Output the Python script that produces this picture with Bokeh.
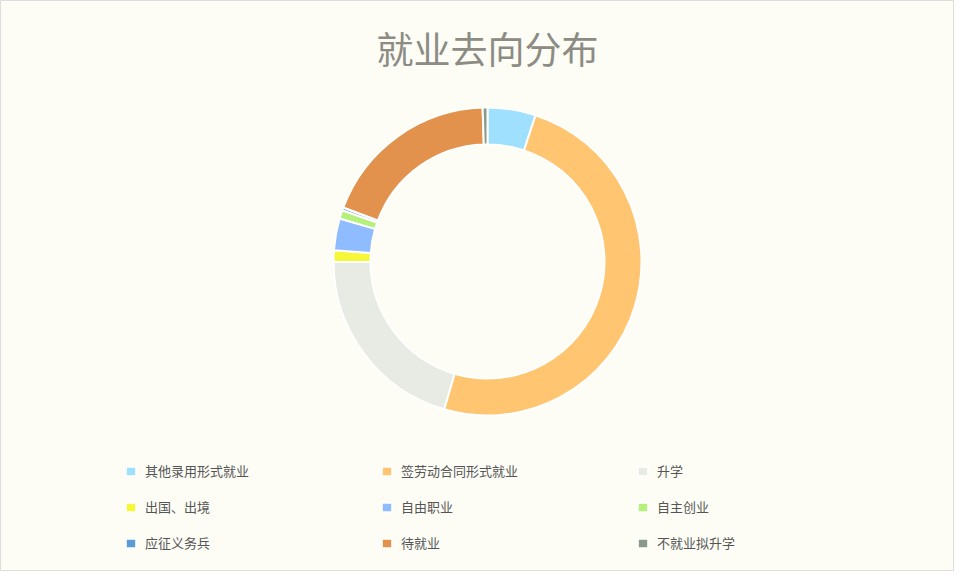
import math
from bokeh.plotting import figure
from bokeh.models import ColumnDataSource, Range1d, Legend, LegendItem
from bokeh.core.properties import value
from bokeh.embed import file_html
from bokeh.resources import INLINE

title_text = "就业去向分布"
categories = ["其他录用形式就业", "签劳动合同形式就业", "升学", "出国、出境",
              "自由职业", "自主创业", "应征义务兵", "待就业", "不就业拟升学"]
shares = [5.0, 49.0, 20.2, 1.2, 3.3, 0.9, 0.3, 18.6, 0.5]
colors = ["#a0e0ff", "#ffc570", "#e8ebe4", "#f7f73a", "#8fbcff",
          "#b4f07a", "#5b9bd5", "#e2924c", "#8a9a8a"]

W, H = 954, 571
bg = "#fdfdf6"
p = figure(width=W, height=H, output_backend="svg", toolbar_location=None,
           x_range=Range1d(0, W), y_range=Range1d(0, H),
           min_border=0, background_fill_color=bg, border_fill_color=bg,
           outline_line_color="#dddddd")
p.axis.visible = False
p.grid.visible = False

total = sum(shares)
starts, ends = [], []
cum = 0.0
for v in shares:
    starts.append(math.pi / 2 - cum / total * 2 * math.pi)
    cum += v
    ends.append(math.pi / 2 - cum / total * 2 * math.pi)

cx, cy = 487, H - 261
src = ColumnDataSource(dict(cat=categories, share=shares, color=colors,
                            start=starts, end=ends,
                            x=[cx] * len(shares), y=[cy] * len(shares)))
r = p.annular_wedge(x="x", y="y", inner_radius=117, outer_radius=154,
                    start_angle="start", end_angle="end", direction="clock",
                    fill_color="color", line_color="#ffffff", line_width=2,
                    source=src)

p.text(x=[W / 2 + 10], y=[H - 47], text=[title_text], text_align="center",
       text_baseline="middle", text_font=value("Noto Sans CJK SC"),
       text_font_size="37px", text_color="#8c8c84")

ncols = 3
nrows = math.ceil(len(categories) / ncols)
order = [r_ * ncols + c for c in range(ncols) for r_ in range(nrows)
         if r_ * ncols + c < len(categories)]
items = [LegendItem(label=categories[i], renderers=[r], index=i) for i in order]
legend = Legend(items=items, ncols=ncols, location=(124, 19),
                background_fill_color=bg, background_fill_alpha=1,
                border_line_color=None, label_text_font="Noto Sans CJK SC",
                label_text_font_size="13px", label_text_color="#555555",
                glyph_width=13, glyph_height=12, spacing=17, padding=0,
                margin=0, label_standoff=8, label_width=218)
p.add_layout(legend, "center")

open("out.html", "w").write(file_html(p, INLINE))
